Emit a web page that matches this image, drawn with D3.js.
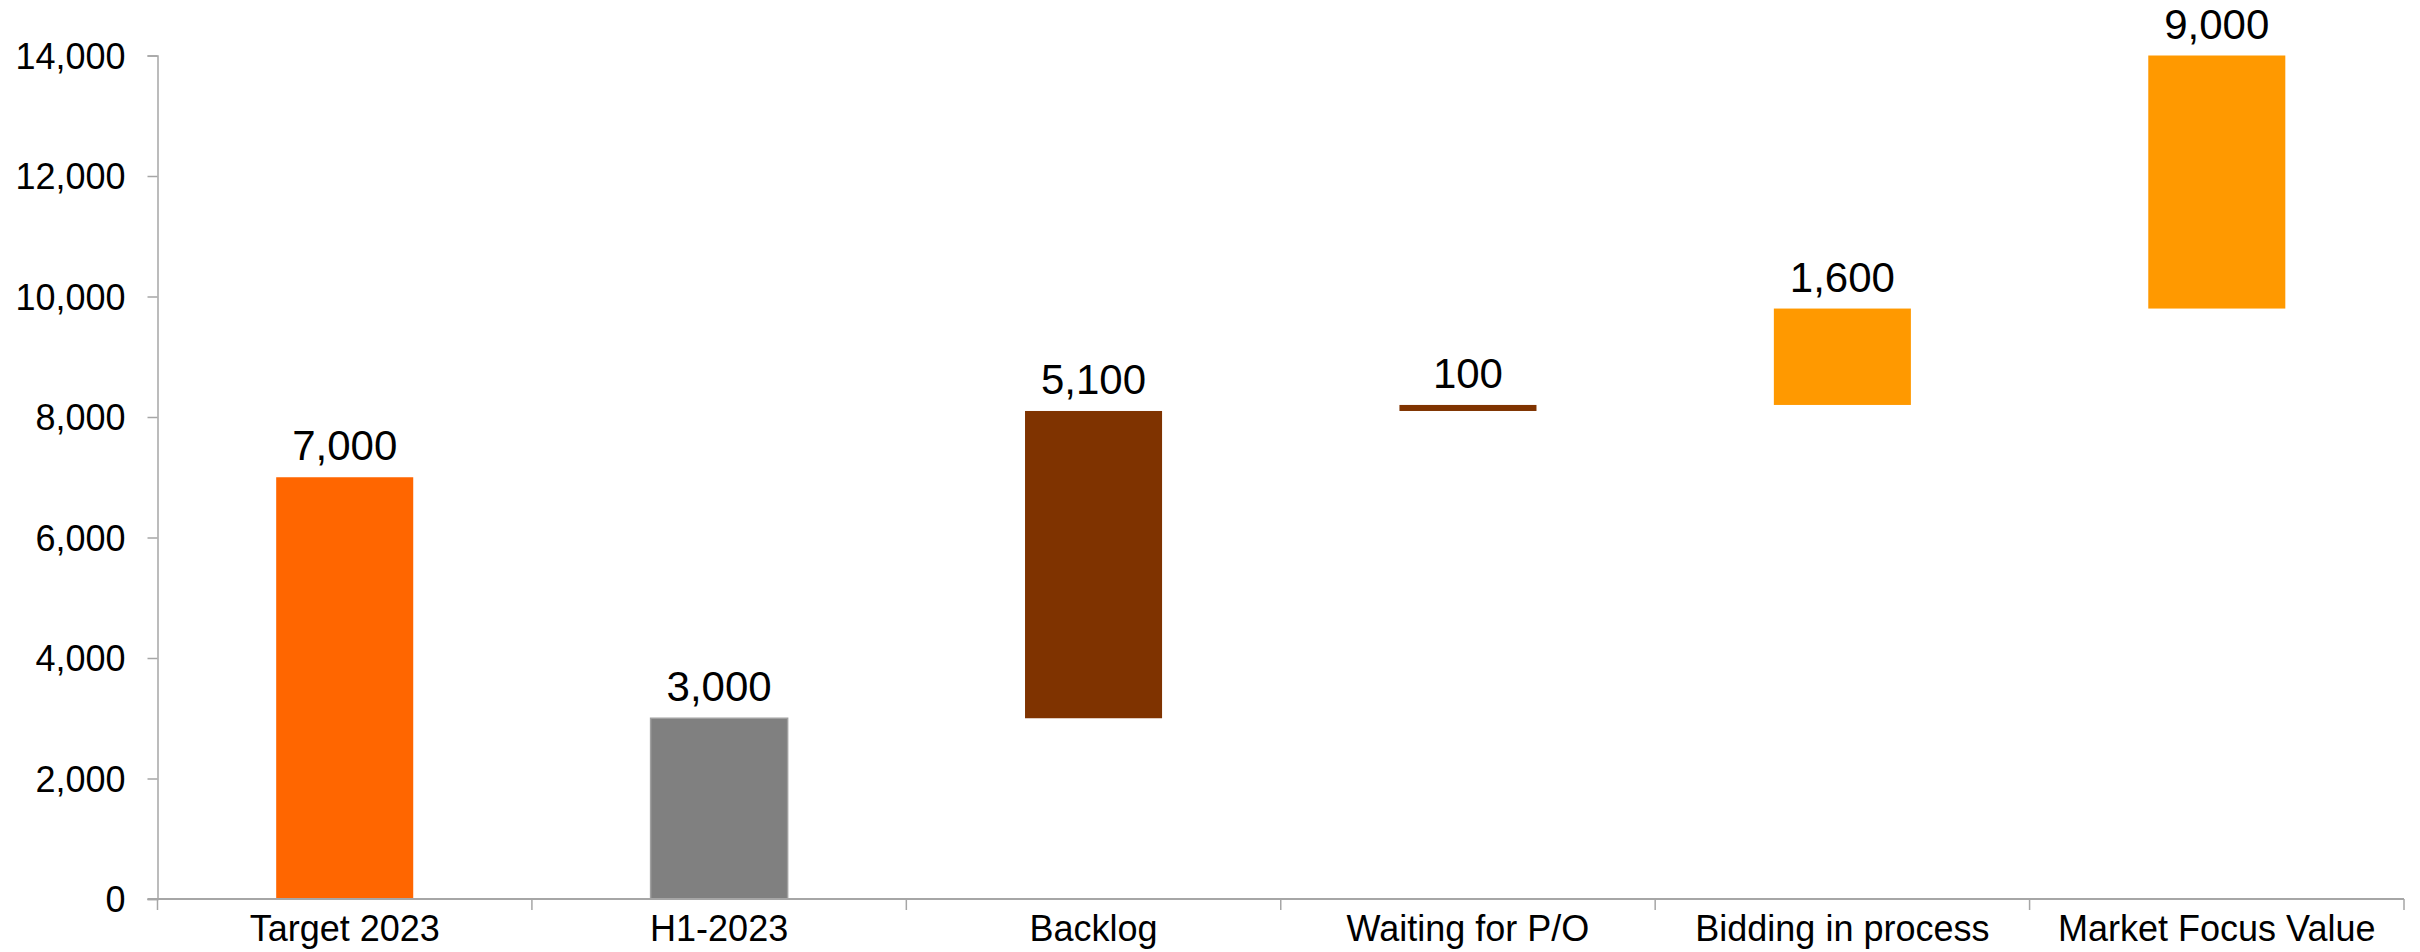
<!DOCTYPE html>
<html>
<head>
<meta charset="utf-8">
<script src="https://cdn.jsdelivr.net/npm/d3@7"></script>
<style>
  html, body { margin: 0; padding: 0; background: #fff; }
  svg text { font-family: "Liberation Sans", Arial, sans-serif; fill: #000; }
</style>
</head>
<body>
<div id="chart"></div>
<script>
// categories and waterfall segments (start / end in chart units)
const categories = ["Target 2023", "H1-2023", "Backlog", "Waiting for P/O", "Bidding in process", "Market Focus Value"];
const barStart  = [0, 0, 3000, 8100, 8200, 9800];
const barEnd    = [7000, 3000, 8100, 8200, 9800, 14000];
const barLabels = [7000, 3000, 5100, 100, 1600, 9000];
const barColors = ["#ff6600", "#808080", "#7f3300", "#7f3300", "#ff9900", "#ff9900"];
const yTicks    = [0, 2000, 4000, 6000, 8000, 10000, 12000, 14000];

const W = 2420, H = 952;
const margin = {top: 55.5, right: 16, bottom: 53, left: 157.5};

const svg = d3.select("#chart").append("svg")
  .attr("width", W)
  .attr("height", H);

// Scales
const x = d3.scaleBand()
  .domain(categories)
  .range([margin.left, W - margin.right])
  .padding(0);

const barW = x.bandwidth() * 0.366;

const y = d3.scaleLinear()
  .domain([0, 14000])
  .range([H - margin.bottom, margin.top]);

const fmt = d3.format(",");

// Y axis
const yAxis = svg.append("g")
  .attr("transform", "translate(" + margin.left + ",0)")
  .call(d3.axisLeft(y).tickValues(yTicks).tickFormat(fmt).tickSize(10).tickPadding(22));
yAxis.select(".domain").attr("stroke", "#a6a6a6").attr("stroke-width", 1.5);
yAxis.selectAll(".tick line").attr("stroke", "#a6a6a6").attr("stroke-width", 1.5);
yAxis.selectAll(".tick text")
  .style("font-size", "36px")
  .attr("dy", "0.35em");

// Bars
svg.append("g").selectAll("rect")
  .data(categories)
  .enter()
  .append("rect")
  .attr("x", function (d) { return x(d) + (x.bandwidth() - barW) / 2; })
  .attr("width", barW)
  .attr("y", function (d, i) { return y(barEnd[i]); })
  .attr("height", function (d, i) { return y(barStart[i]) - y(barEnd[i]); })
  .style("fill", function (d, i) { return barColors[i]; })
  .style("stroke", function (d, i) { return barColors[i] === "#808080" ? "#a0a0a0" : "none"; })
  .style("stroke-width", 1.5);

// X axis
const xAxis = svg.append("g")
  .attr("transform", "translate(0," + y(0) + ")");
xAxis.append("line")
  .attr("x1", margin.left - 10)
  .attr("x2", W - margin.right)
  .attr("stroke", "#a6a6a6")
  .attr("stroke-width", 2);

// tick marks between categories
const bounds = categories.map(function (c) { return x(c); }).concat([x.range()[1]]);
xAxis.selectAll(".bound")
  .data(bounds)
  .enter()
  .append("line")
  .attr("class", "bound")
  .attr("x1", function (d) { return d; })
  .attr("x2", function (d) { return d; })
  .attr("y1", 0)
  .attr("y2", 11)
  .attr("stroke", "#a6a6a6")
  .attr("stroke-width", 1.5);

xAxis.selectAll(".cat")
  .data(categories)
  .enter()
  .append("text")
  .attr("class", "cat")
  .attr("x", function (d) { return x(d) + x.bandwidth() / 2; })
  .attr("y", 42)
  .attr("text-anchor", "middle")
  .style("font-size", "36px")
  .text(function (d) { return d; });

// Value labels above each bar
svg.append("g").selectAll("text")
  .data(categories)
  .enter()
  .append("text")
  .attr("x", function (d) { return x(d) + x.bandwidth() / 2; })
  .attr("y", function (d, i) { return y(barEnd[i]) - 17; })
  .attr("text-anchor", "middle")
  .style("font-size", "42px")
  .text(function (d, i) { return fmt(barLabels[i]); });
</script>
</body>
</html>
